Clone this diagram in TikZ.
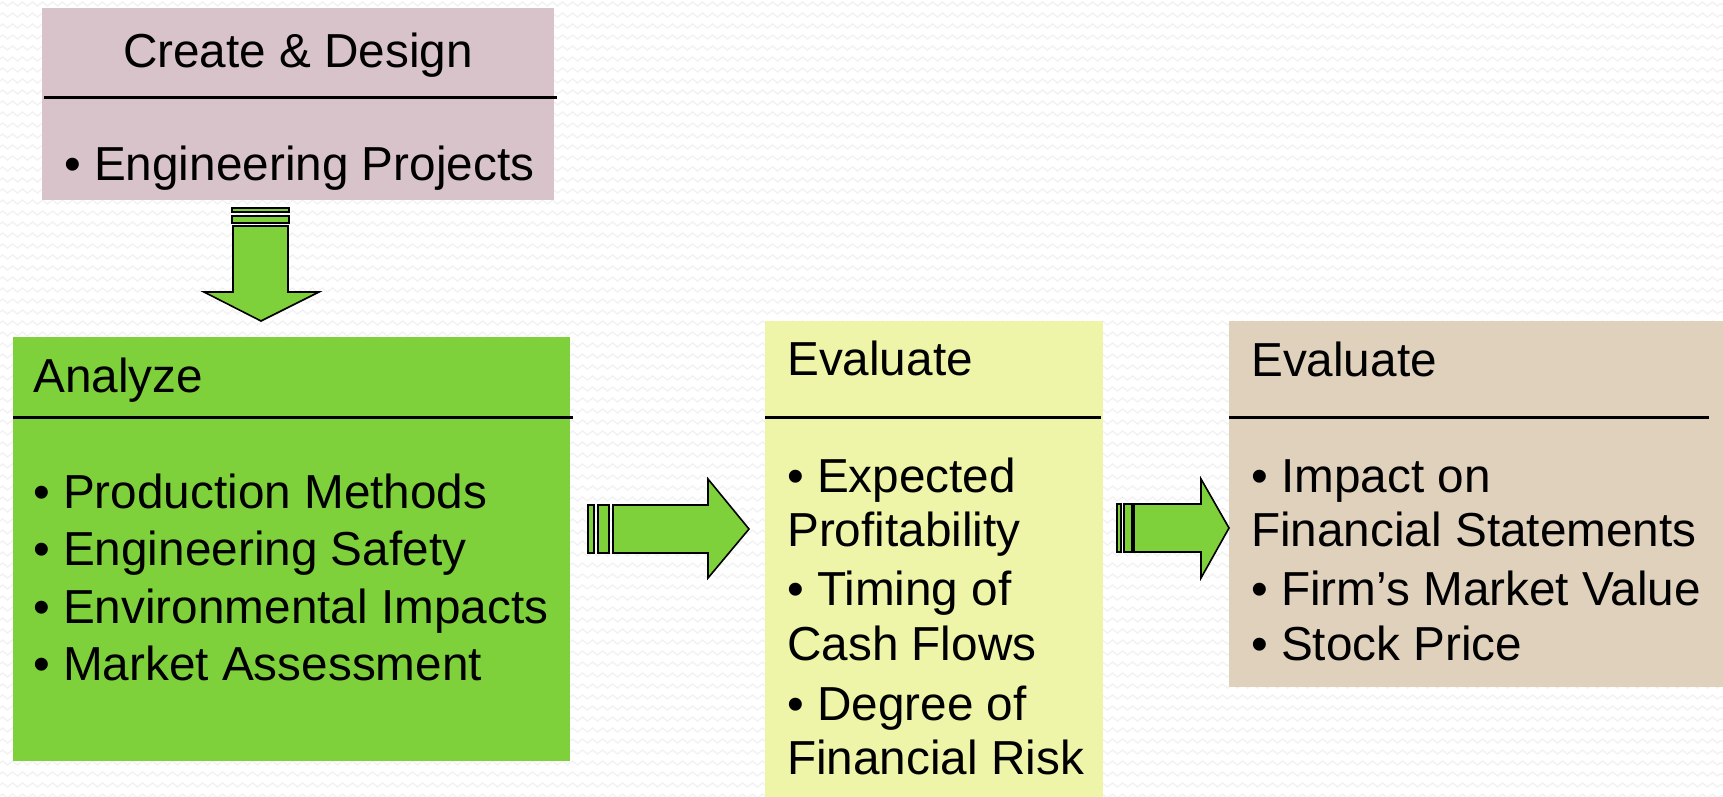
\documentclass[tikz,border=0pt]{standalone}
\usepackage{fontspec}
\setmainfont{Liberation Sans}
\usetikzlibrary{decorations.pathmorphing}
\definecolor{bgc}{HTML}{FFFFFF}
\definecolor{zigc}{HTML}{F1F1F1}
\definecolor{pinkbox}{HTML}{D9C3CA}
\definecolor{greenbox}{HTML}{7FD13B}
\definecolor{yellowbox}{HTML}{EEF5A8}
\definecolor{tanbox}{HTML}{E0D1BC}
\begin{document}
\begin{tikzpicture}[x=1pt,y=-1pt,
  box/.style={inner sep=0pt, outer sep=0pt, anchor=north west},
  txt/.style={anchor=base west, inner sep=0pt, font=\fontsize{47.7}{57}\selectfont},
  rulebar/.style={line width=3pt},
  blockarrow/.style={fill=greenbox, draw=black, line width=1.6pt, line join=miter}]
\useasboundingbox (0,0) rectangle (1723,796);
\fill[bgc] (0,0) rectangle (1723,796);
\foreach \yy in {4,15,...,796} {
  \draw[zigc, line width=1.2pt, decorate, decoration={zigzag, segment length=10pt, amplitude=2pt}] (0,\yy) -- (1723,\yy);
}
% boxes
\node[box, fill=pinkbox, minimum width=512pt, minimum height=192pt] (cd) at (42,8) {};
\node[box, fill=greenbox, minimum width=557pt, minimum height=424pt] (an) at (13,337) {};
\node[box, fill=yellowbox, minimum width=338pt, minimum height=476pt] (ev1) at (765,321) {};
\node[box, fill=tanbox, minimum width=494pt, minimum height=366pt] (ev2) at (1229,321) {};
% rules
\draw[rulebar] (44,97) -- (557,97);
\draw[rulebar] (13,417) -- (573,417);
\draw[rulebar] (765,417) -- (1101,417);
\draw[rulebar] (1229,417) -- (1709,417);
% texts
\node[txt, anchor=base] (cdh) at (298,67) {Create \& Design};
\node[txt] (cd1) at (64,180) {• Engineering Projects};
\node[txt] (anh) at (33,392) {Analyze};
\node[txt] (an1) at (33,508) {• Production Methods};
\node[txt] (an2) at (33,565) {• Engineering Safety};
\node[txt] (an3) at (33,623) {• Environmental Impacts};
\node[txt] (an4) at (33,680) {• Market Assessment};
\node[txt] (e1h) at (787,375) {Evaluate};
\node[txt] (e11) at (787,492) {• Expected};
\node[txt] (e12) at (787,546) {Profitability};
\node[txt] (e13) at (787,605) {• Timing of};
\node[txt] (e14) at (787,660) {Cash Flows};
\node[txt] (e15) at (787,720) {• Degree of};
\node[txt] (e16) at (787,774) {Financial Risk};
\node[txt] (e2h) at (1251,376) {Evaluate};
\node[txt] (e21) at (1251,492) {• Impact on};
\node[txt] (e22) at (1251,546) {Financial Statements};
\node[txt] (e23) at (1251,605) {• Firm’s Market Value};
\node[txt] (e24) at (1251,660) {• Stock Price};
% down arrow
\draw[blockarrow] (232,208) rectangle (289,212);
\draw[blockarrow] (232,216) rectangle (289,223);
\draw[blockarrow] (233,226) -- (288,226) -- (288,292) -- (319,292) -- (261,321) -- (204,292) -- (233,292) -- cycle;
% right arrow 1
\draw[blockarrow] (588,505) rectangle (594,553);
\draw[blockarrow] (598,505) rectangle (609,553);
\draw[blockarrow] (613,505) -- (708,505) -- (708,479) -- (749,529) -- (708,578) -- (708,553) -- (613,553) -- cycle;
% right arrow 2
\draw[blockarrow] (1117,504) rectangle (1121,552);
\draw[blockarrow] (1124,504) rectangle (1132,552);
\draw[blockarrow] (1134,504) -- (1201,504) -- (1201,479) -- (1229,528) -- (1201,578) -- (1201,552) -- (1134,552) -- cycle;
\end{tikzpicture}
\end{document}
